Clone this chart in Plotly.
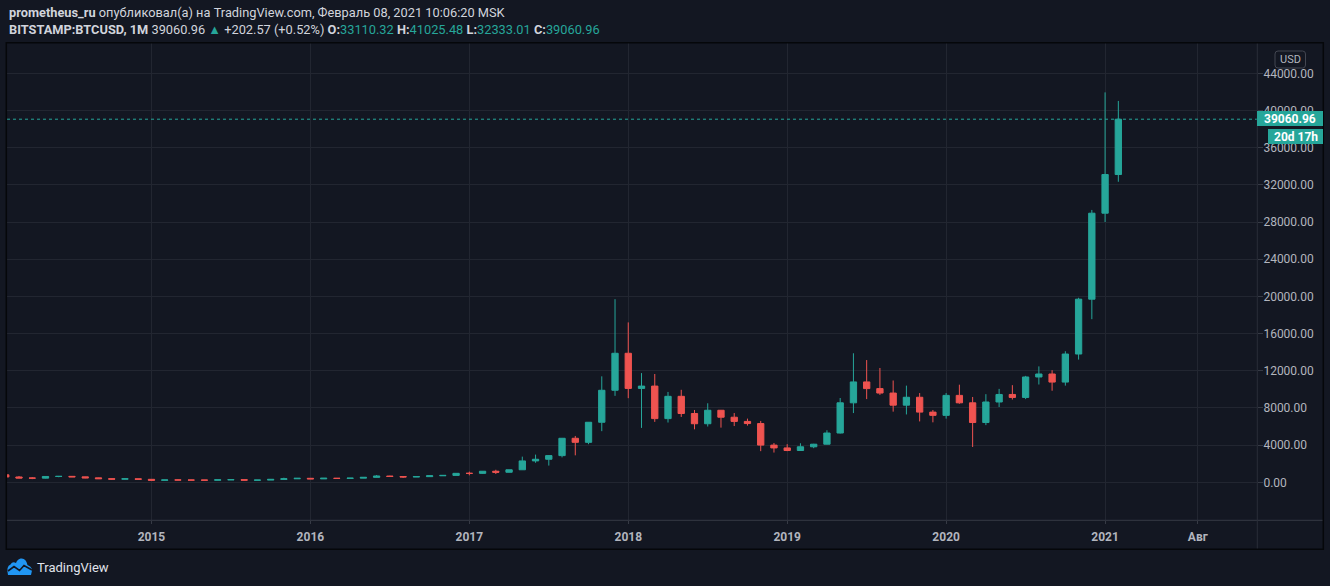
import plotly.graph_objects as go
import pandas as pd

# ---------------- data (monthly BTCUSD, Bitstamp) ----------------
months = [p.strftime("%Y-%m") for p in pd.period_range("2014-02", "2021-02", freq="M")]

opens = [805, 573, 458, 447, 627, 640, 585, 478, 387, 338, 378,
         320, 217, 254, 244, 236, 230, 263, 284, 230, 236, 314, 377,
         430, 368, 437, 416, 448, 530, 673, 624, 573, 608, 700, 742,
         964, 960, 1190, 1080, 1348, 2300, 2480, 2870, 4735, 4300, 6460, 9900,
         13880, 10100, 10350, 6850, 9250, 7400, 6300, 7750, 7000, 6550, 6320, 4000,
         3700, 3420, 3820, 4100, 5300, 8550, 10800, 10080, 9600, 8300, 9150, 7550,
         7200, 9350, 8550, 6430, 8640, 9450, 9130, 11330, 11650, 10780, 13800, 19700,
         28950, 33110.32]
highs = [840, 680, 545, 635, 680, 650, 600, 495, 415, 460, 385,
         320, 265, 300, 262, 248, 268, 318, 285, 247, 336, 495, 465,
         465, 445, 440, 467, 550, 780, 705, 630, 625, 737, 755, 980,
         1150, 1200, 1350, 1350, 2760, 2980, 2920, 4770, 4985, 6480, 11400, 19700,
         17200, 11750, 11650, 9720, 9950, 7780, 8500, 7780, 7450, 6850, 6600, 4230,
         4100, 4200, 4140, 5600, 9070, 13880, 13150, 12300, 10950, 10400, 9600, 7780,
         9600, 10500, 9180, 9480, 10050, 10450, 11450, 12470, 12060, 14100, 19850, 29300,
         41950, 41025.48]
lows = [400, 440, 340, 420, 545, 565, 440, 365, 275, 320, 310,
        152, 213, 235, 214, 226, 218, 253, 195, 225, 235, 297, 350,
        350, 365, 395, 412, 438, 520, 600, 470, 570, 605, 680, 740,
        750, 920, 890, 1060, 1340, 2100, 1800, 2680, 2900, 4100, 5500, 9300,
        9050, 5850, 6500, 6430, 7030, 5700, 6000, 5880, 6050, 6100, 3350, 3200,
        3350, 3380, 3670, 4080, 5250, 7450, 8950, 9400, 7600, 7300, 6550, 6450,
        6850, 8450, 3800, 6150, 8100, 8900, 8950, 10520, 9850, 10400, 13200, 17550,
        28000, 32333.01]
closes = [573, 458, 447, 627, 640, 585, 478, 387, 338, 378, 320,
          217, 254, 244, 236, 230, 263, 284, 230, 236, 314, 377, 430,
          368, 437, 416, 448, 530, 673, 624, 573, 608, 700, 742, 964,
          960, 1190, 1080, 1348, 2300, 2480, 2870, 4735, 4300, 6460, 9900, 13880,
          10100, 10350, 6850, 9250, 7400, 6300, 7750, 7000, 6550, 6320, 4000, 3700,
          3420, 3820, 4100, 5300, 8550, 10800, 10080, 9600, 8300, 9150, 7550, 7200,
          9350, 8550, 6430, 8640, 9450, 9130, 11330, 11650, 10780, 13800, 19700, 28950,
          33110.32, 39060.96]

x_tick_months = ["2015-01", "2016-01", "2017-01", "2018-01", "2019-01", "2020-01", "2021-01", "2021-08"]
x_tick_labels = ["2015", "2016", "2017", "2018", "2019", "2020", "2021", "Авг"]
y_ticks = list(range(0, 44001, 4000))
last_price = 39060.96

# ---------------- styling ----------------
BG = "#131722"
UP = "#26a69a"
DOWN = "#ef5350"
GRID = "#222631"
AXIS_TXT = "#b2b5be"
TXT = "#d1d4dc"
FONT = "Roboto"

W, H = 1330, 586
L, R, T, B = 7, 73, 43, 66
PW, PH = W - L - R, H - T - B


def pxx(x):  # pixel -> paper x
    return (x - L) / PW


def pxy(y):  # pixel -> paper y
    return (H - B - y) / PH


xidx = list(range(len(months)))
all_months = [p.strftime("%Y-%m") for p in pd.period_range("2014-02", "2021-12", freq="M")]
tickvals = [all_months.index(m) for m in x_tick_months]

fig = go.Figure(go.Candlestick(
    x=xidx, open=opens, high=highs, low=lows, close=closes,
    increasing=dict(line=dict(color=UP, width=1), fillcolor=UP),
    decreasing=dict(line=dict(color=DOWN, width=1), fillcolor=DOWN),
    whiskerwidth=0, hoverinfo="skip", showlegend=False,
))

fig.update_layout(
    width=W, height=H,
    margin=dict(l=L, r=R, t=T, b=B, pad=0),
    paper_bgcolor=BG, plot_bgcolor=BG,
    font=dict(family=FONT, color=AXIS_TXT, size=12),
    boxgap=0.32,
    showlegend=False,
    xaxis=dict(
        range=[0.094, 94.47], rangeslider=dict(visible=False),
        tickmode="array", tickvals=tickvals,
        ticktext=[f"<b>{t}</b>" for t in x_tick_labels],
        showgrid=True, gridcolor=GRID, gridwidth=1,
        zeroline=False, showline=False,
        ticks="outside", ticklen=3, tickcolor="#363a45",
        ticklabelstandoff=3,
        tickfont=dict(size=12, color=AXIS_TXT, family=FONT),
        fixedrange=True,
    ),
    yaxis=dict(
        side="right", range=[-4056, 47260],
        tickmode="array", tickvals=y_ticks,
        ticktext=[f"{v:.2f}" for v in y_ticks],
        showgrid=True, gridcolor=GRID, gridwidth=1,
        zeroline=False, showline=False,
        ticks="outside", ticklen=5, tickcolor="#363a45",
        ticklabelstandoff=-2,
        tickfont=dict(size=12, color=AXIS_TXT, family=FONT),
        fixedrange=True,
    ),
)

shapes = []
# last price dotted line
shapes.append(dict(type="line", xref="paper", yref="y", x0=0, x1=1, y0=last_price, y1=last_price,
                   line=dict(color=UP, width=1, dash="dot")))
# time axis line across panel
shapes.append(dict(type="line", xref="paper", yref="paper", x0=pxx(6), x1=pxx(1323),
                   y0=pxy(520.3), y1=pxy(520.3), line=dict(color="#363a45", width=1)))
# price axis separator
shapes.append(dict(type="line", xref="paper", yref="paper", x0=pxx(1257.3), x1=pxx(1257.3),
                   y0=pxy(43), y1=pxy(549), line=dict(color="#2a2e39", width=1)))
# outer panel border
shapes.append(dict(type="rect", xref="paper", yref="paper", x0=pxx(6.3), x1=pxx(1323.3),
                   y0=pxy(549.3), y1=pxy(42.7), line=dict(color="#05070a", width=1.5)))
# price label boxes
shapes.append(dict(type="rect", xref="paper", yref="paper", x0=pxx(1257), x1=pxx(1323),
                   y0=pxy(126), y1=pxy(111), fillcolor=UP, line=dict(width=0)))
shapes.append(dict(type="rect", xref="paper", yref="paper", x0=pxx(1268), x1=pxx(1323),
                   y0=pxy(144), y1=pxy(129), fillcolor=UP, line=dict(width=0)))
# USD box
x0, x1, y0, y1 = 1275, 1305.5, 51, 68
r = 3
path = (f"M {pxx(x0 + r)} {pxy(y0)} L {pxx(x1 - r)} {pxy(y0)} Q {pxx(x1)} {pxy(y0)} {pxx(x1)} {pxy(y0 + r)} "
        f"L {pxx(x1)} {pxy(y1 - r)} Q {pxx(x1)} {pxy(y1)} {pxx(x1 - r)} {pxy(y1)} "
        f"L {pxx(x0 + r)} {pxy(y1)} Q {pxx(x0)} {pxy(y1)} {pxx(x0)} {pxy(y1 - r)} "
        f"L {pxx(x0)} {pxy(y0 + r)} Q {pxx(x0)} {pxy(y0)} {pxx(x0 + r)} {pxy(y0)} Z")
shapes.append(dict(type="path", xref="paper", yref="paper", path=path, fillcolor=BG,
                   line=dict(color="#434651", width=1)))


def pth(pts, close=True):
    s = "M " + " L ".join(f"{pxx(a)} {pxy(b)}" for a, b in pts)
    return s + (" Z" if close else "")


# TradingView logo (cloud)
cloud = (f"M {pxx(8)} {pxy(575)} L {pxx(31)} {pxy(575)} Q {pxx(34)} {pxy(567)} {pxx(27.5)} {pxy(565)} "
         f"Q {pxx(26)} {pxy(557.5)} {pxx(20.5)} {pxy(558.5)} Q {pxx(17)} {pxy(559.5)} {pxx(16)} {pxy(563)} "
         f"Q {pxx(12.5)} {pxy(561)} {pxx(10.5)} {pxy(564.5)} Q {pxx(6)} {pxy(566)} {pxx(8)} {pxy(575)} Z")
shapes.append(dict(type="path", xref="paper", yref="paper", path=cloud, fillcolor="#2196f3",
                   line=dict(width=0)))
shapes.append(dict(type="path", xref="paper", yref="paper",
                   path=pth([(8, 571), (14, 566.5), (19.5, 570.5), (24, 565.5), (32, 570)], close=False),
                   line=dict(color=BG, width=1.6)))

fig.update_layout(shapes=shapes)

teal = lambda s: f"<span style='color:{UP}'>{s}</span>"
ann = []
ann.append(dict(xref="paper", yref="paper", x=pxx(7), y=pxy(12.5), xanchor="left", yanchor="middle",
                showarrow=False, font=dict(size=12.8, color=TXT, family=FONT),
                text="<b>prometheus_ru</b> опубликовал(а) на TradingView.com, Февраль 08, 2021 10:06:20 MSK"))
ann.append(dict(xref="paper", yref="paper", x=pxx(7), y=pxy(29.5), xanchor="left", yanchor="middle",
                showarrow=False, font=dict(size=12.8, color=TXT, family=FONT),
                text=("<b>BITSTAMP:BTCUSD, 1M</b> 39060.96 " + teal("▲") + " +202.57 (+0.52%) "
                      "<b>O:</b>" + teal("33110.32") + " <b>H:</b>" + teal("41025.48") +
                      " <b>L:</b>" + teal("32333.01") + " <b>C:</b>" + teal("39060.96"))))
ann.append(dict(xref="paper", yref="paper", x=pxx(1290), y=pxy(59.5), xanchor="center", yanchor="middle",
                showarrow=False, font=dict(size=11, color=AXIS_TXT, family=FONT), text="USD"))
ann.append(dict(xref="paper", yref="paper", x=pxx(1290), y=pxy(118.5), xanchor="center", yanchor="middle",
                showarrow=False, font=dict(size=12, color="#ffffff", family=FONT), text="<b>39060.96</b>"))
ann.append(dict(xref="paper", yref="paper", x=pxx(1295.5), y=pxy(136.5), xanchor="center", yanchor="middle",
                showarrow=False, font=dict(size=12, color="#ffffff", family=FONT), text="<b>20d 17h</b>"))
ann.append(dict(xref="paper", yref="paper", x=pxx(35), y=pxy(567.5), xanchor="left", yanchor="middle",
                showarrow=False, font=dict(size=13, color="#e0e3eb", family=FONT), text="TradingView"))
fig.update_layout(annotations=ann)

fig.write_html("out.html",
               config={"displayModeBar": False, "staticPlot": True},
               post_script="document.body.style.margin='0px';document.body.style.overflow='hidden';"
                           f"document.body.style.background='{BG}';")
